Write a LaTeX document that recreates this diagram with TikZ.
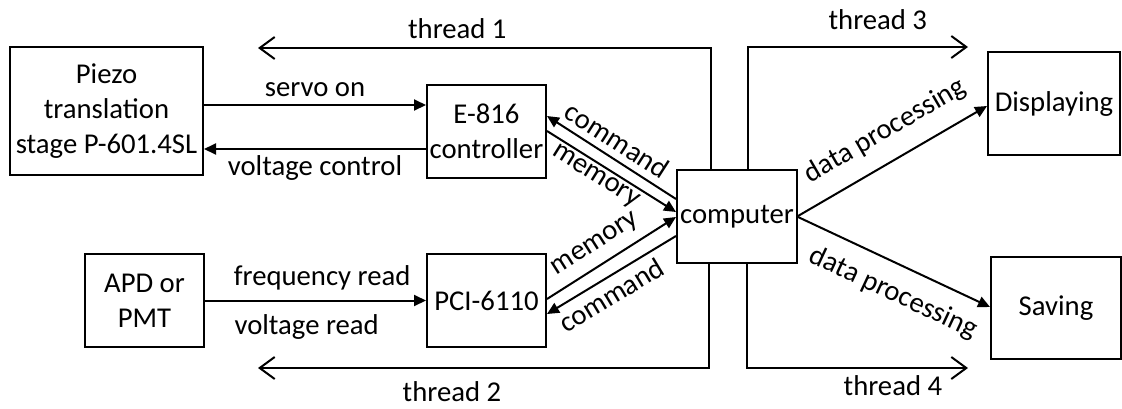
\documentclass[tikz,border=0pt]{standalone}
\usepackage{fontspec}
\setmainfont{Carlito}
\usetikzlibrary{arrows.meta,calc}
\tikzset{
  box/.style={draw, line width=2pt, inner sep=0pt, align=center},
  lab/.style={inner sep=0pt, text height=21pt, text depth=7pt},
  arr/.style={line width=2pt, -{Triangle[length=12pt,width=11pt]}},
  thr/.style={line width=2pt, -{Straight Barb[length=15pt,width=22pt,line width=2pt]}}
}
\begin{document}
\begin{tikzpicture}[x=1pt,y=-1pt,font=\fontsize{28.7pt}{35pt}\selectfont]
\fill[white] (0,0) rectangle (1122,408);
\useasboundingbox (0,0) rectangle (1122,408);
\node[box, minimum width=193pt, minimum height=128pt] (piezo) at (106.5,111) {Piezo\\translation\\stage P-601.4SL};
\node[box, minimum width=119pt, minimum height=93pt] (e816) at (486.5,131.5) {E-816\\controller};
\node[box, minimum width=119pt, minimum height=93pt] (apd) at (144.5,300.5) {APD or\\PMT};
\node[box, minimum width=119pt, minimum height=93pt] (pci) at (486.5,300.5) {PCI-6110};
\node[box, minimum width=120pt, minimum height=93pt] (comp) at (737,216.5) {computer};
\node[box, minimum width=132pt, minimum height=103pt] (disp) at (1054,103.5) {Displaying};
\node[box, minimum width=130pt, minimum height=102pt] (save) at (1056,308) {Saving};

\draw[arr] ($(piezo.north east)+(0,59)$) -- node[lab, above=1pt] {servo on} ($(e816.north west)+(0,21)$);
\draw[arr] ($(e816.north west)+(0,65)$) -- node[lab, below=4pt] {voltage control} ($(piezo.north east)+(0,103)$);
\draw[arr] (apd.east) -- node[lab, above=7pt, pos=0.53] {frequency read} node[lab, below=12pt, pos=0.46] {voltage read} (pci.west);

\draw[arr] ($(comp.north west)+(0,30)$) -- node[lab, sloped, above=0pt, pos=0.53] {command} ($(e816.north east)+(0,32)$);
\draw[arr] ($(e816.north east)+(0,47)$) -- node[lab, sloped, below=-4pt, pos=0.43] {memory} ($(comp.north west)+(0,43)$);
\draw[arr] ($(pci.north east)+(0,46)$) -- node[lab, sloped, above=7pt, pos=0.46] {memory} ($(comp.north west)+(0,48)$);
\draw[arr] ($(comp.north west)+(0,67)$) -- node[lab, sloped, below=5pt, pos=0.57] {command} ($(pci.north east)+(0,61)$);

\draw[arr] ($(comp.north east)+(0,47)$) -- node[lab, sloped, above=14pt, pos=0.54] {data processing} ($(disp.north west)+(0,55)$);
\draw[arr] ($(comp.north east)+(0,48)$) -- node[lab, sloped, below=14pt, pos=0.56] {data processing} ($(save.north west)+(0,51)$);

\coordinate (t1) at (258,48);
\coordinate (t2) at (258,368);
\coordinate (t3) at (968,47);
\coordinate (t4) at (968,368);
\draw[thr] ($(comp.north west)+(35,0)$) |- node[lab, above=2pt, pos=0.78] {thread 1} (t1);
\draw[thr] ($(comp.south west)+(33,0)$) |- node[lab, below=11pt, pos=0.785] {thread 2} (t2);
\draw[thr] ($(comp.north west)+(72,0)$) |- node[lab, above=10pt, pos=0.795] {thread 3} (t3);
\draw[thr] ($(comp.south west)+(71,0)$) |- node[lab, below=5pt, pos=0.83] {thread 4} (t4);
\end{tikzpicture}
\end{document}
